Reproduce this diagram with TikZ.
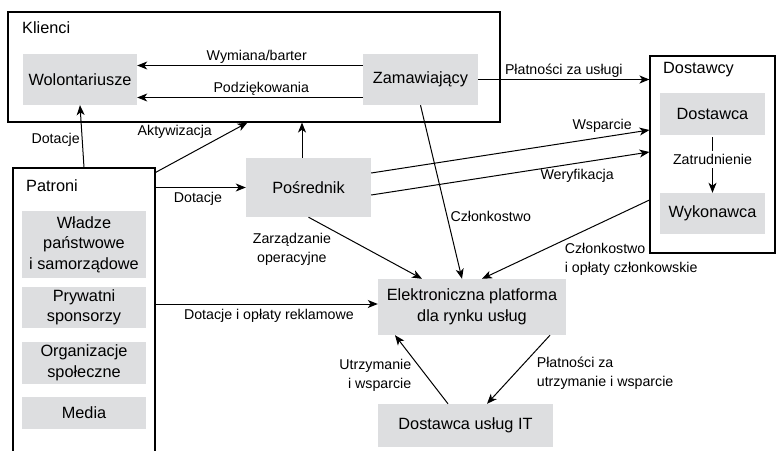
\documentclass[tikz,border=0pt]{standalone}
\usepackage{fontspec}
\setmainfont{Liberation Sans}
\usepackage{tikz}
\usetikzlibrary{positioning,arrows.meta}
\definecolor{boxgray}{RGB}{221,222,224}
\tikzset{
    x=1pt,
    y=-1pt,
    block/.style = {
        fill=boxgray,
        shape=rectangle,
        align=center,
        inner sep=0pt,
        font=\fontsize{16.3}{20.5}\selectfont
    },
    group/.style = {
        draw,
        shape=rectangle,
        line width=1.1pt
    },
    grouptitle/.style = {
        anchor=base west,
        inner sep=0pt,
        font=\fontsize{16.3}{20}\selectfont
    },
    flow/.style = {
        draw,
        line width=1pt,
        ->
    },
    flowlabel/.style = {
        inner sep=2pt,
        font=\fontsize{14.2}{19}\selectfont
    },
    >={Stealth[length=10pt,width=8pt,inset=2.8pt]},
}

\begin{document}
\begin{tikzpicture}
                \useasboundingbox (0,0) rectangle (776,450);

                % groups
                \node[group, minimum width=492pt, minimum height=110pt] (klienci) at (254,67) {};
                \node[group, minimum width=125pt, minimum height=197pt] (dostawcy) at (712.5,154.5) {};
                \node[group, minimum width=142pt, minimum height=304pt] (patroni) at (84,320) {};
                \node[grouptitle] (kliencititle) at (22,33) {Klienci};
                \node[grouptitle] (dostawcytitle) at (663,73.5) {Dostawcy};
                \node[grouptitle] (patronititle) at (26,191) {Patroni};

                % actors
                \node[block, minimum width=114pt, minimum height=51pt] (wol) at (80,79.5) {Wolontariusze};
                \node[block, minimum width=115pt, minimum height=51pt] (zam) at (420.5,79.5) {Zamawiający};
                \node[block, minimum width=105pt, minimum height=42pt] (dostawca) at (712.5,114) {Dostawca};
                \node[block, minimum width=105pt, minimum height=41pt] (wykonawca) at (712.5,213.5) {Wykonawca};
                \node[block, minimum width=125pt, minimum height=59pt] (pos) at (308.5,187.5) {Pośrednik};
                \node[block, minimum width=188pt, minimum height=56pt] (plat) at (472,307) {Elektroniczna platforma\\dla rynku usług};
                \node[block, minimum width=175pt, minimum height=43pt] (it) at (465.5,425.5) {Dostawca usług IT};
                \node[block, minimum width=124pt, minimum height=67pt] (wladze) at (84,244.5) {Władze\\państwowe\\i samorządowe};
                \node[block, minimum width=124pt, minimum height=41pt] (prywatni) at (84,307.5) {Prywatni\\sponsorzy};
                \node[block, minimum width=124pt, minimum height=42pt] (organizacje) at (84,363) {Organizacje\\społeczne};
                \node[block, minimum width=124pt, minimum height=32pt] (media) at (84,413) {Media};

                % flows
                \path[flow] ([yshift=14pt]zam.west) -- node[flowlabel, above, pos=0.47] {Wymiana/barter} ([yshift=14pt]wol.east);
                \path[flow] ([yshift=-18pt]zam.west) -- node[flowlabel, above, pos=0.45] {Podziękowania} ([yshift=-18pt]wol.east);
                \path[flow] (zam.east) -- node[flowlabel, above] {Płatności za usługi} (zam.east -| dostawcy.west);
                \path[flow] (patroni.north) -- node[flowlabel, left, pos=0.45] {Dotacje} (wol.south);
                \path[flow] ([yshift=-5pt]patroni.north east) -- node[flowlabel, anchor=south east, pos=0.64] {Aktywizacja} ([xshift=240pt]klienci.south west);
                \path[flow] ([xshift=-6.5pt]pos.north) -- ([xshift=-6.5pt]pos.north |- klienci.south);
                \path[flow] (pos.west -| patroni.east) -- node[flowlabel, below=2pt, pos=0.47] {Dotacje} (pos.west);
                \path[flow] ([yshift=14.5pt]pos.east) -- node[flowlabel, above=2pt, pos=0.83] {Wsparcie} ([yshift=24.5pt]dostawcy.west);
                \path[flow] ([yshift=-7.5pt]pos.east) -- node[flowlabel, below=4pt, pos=0.74] {Weryfikacja} ([yshift=2.5pt]dostawcy.west);
                \path[flow, shorten <=2pt] (dostawca) -- node[flowlabel, fill=white, inner sep=3pt, pos=0.42] {Zatrudnienie} (wykonawca);
                \path[flow] (zam.south) -- node[flowlabel, right=1pt, pos=0.64] {Członkostwo} ([xshift=-10pt]plat.north);
                \path[flow] (pos.south) -- node[flowlabel, below left, pos=0.22, align=center] {Zarządzanie\\operacyjne} ([xshift=-50pt]plat.north);
                \path[flow] ([yshift=-45.5pt]dostawcy.west) -- node[flowlabel, anchor=north west, pos=0.52, align=left] {Członkostwo\\i opłaty członkowskie} ([xshift=10pt]plat.north);
                \path[flow] ([yshift=3pt]plat.west -| patroni.east) -- node[flowlabel, below=3pt, pos=0.51] {Dotacje i opłaty reklamowe} ([yshift=3pt]plat.west);
                \path[flow] ([xshift=-17.5pt]it.north) -- node[flowlabel, left=12pt, pos=0.42, align=right] {Utrzymanie\\i wsparcie} ([xshift=-77pt]plat.south);
                \path[flow] ([xshift=78pt]plat.south) -- node[flowlabel, right=19pt, pos=0.55, align=left] {Płatności za\\utrzymanie i wsparcie} ([xshift=21.5pt]it.north);
\end{tikzpicture}
\end{document}
